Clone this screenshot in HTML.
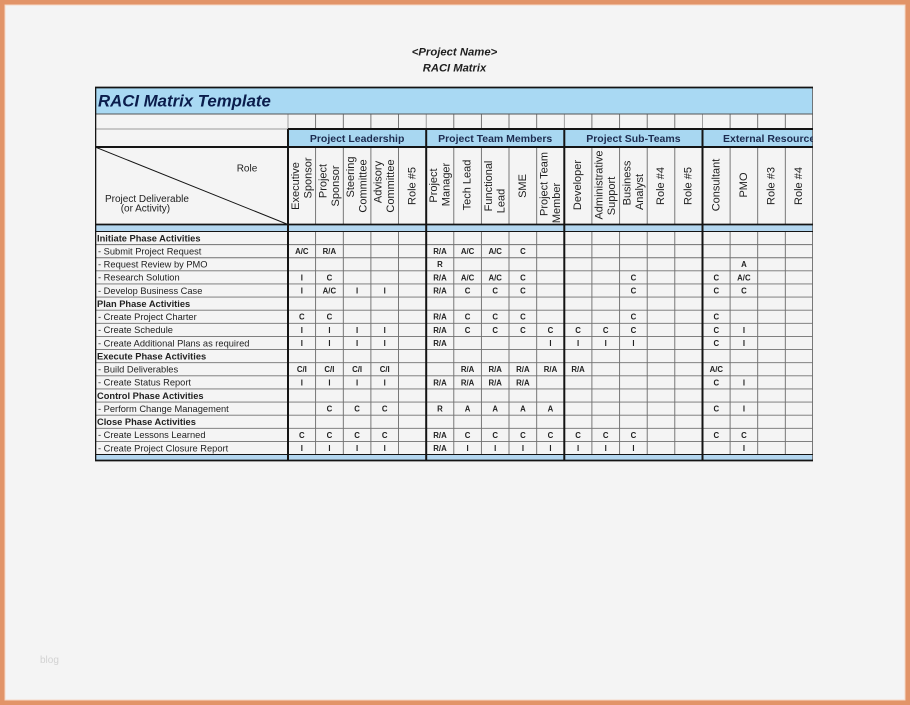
<!DOCTYPE html>
<html>
<head>
<meta charset="utf-8">
<style>
html,body{margin:0;padding:0;background:#f4f4f4;}
body{width:910px;height:705px;overflow:hidden;}
svg{display:block;}
text{font-family:"Liberation Sans",Arial,sans-serif;}
</style>
</head>
<body>
<svg width="910" height="705" viewBox="0 0 910 705" xmlns="http://www.w3.org/2000/svg">
<defs>
<clipPath id="tbl"><rect x="95" y="80" width="718" height="390"/></clipPath>
<g id="vl">
<line x1="315.6" x2="315.6"/><line x1="343.3" x2="343.3"/><line x1="370.9" x2="370.9"/><line x1="398.5" x2="398.5"/>
<line x1="453.8" x2="453.8"/><line x1="481.4" x2="481.4"/><line x1="509.0" x2="509.0"/><line x1="536.7" x2="536.7"/>
<line x1="591.9" x2="591.9"/><line x1="619.6" x2="619.6"/><line x1="647.2" x2="647.2"/><line x1="674.8" x2="674.8"/>
<line x1="730.1" x2="730.1"/><line x1="757.7" x2="757.7"/><line x1="785.3" x2="785.3"/>
</g>
</defs>
<rect x="0" y="0" width="910" height="705" fill="#f4f4f4"/>
<rect x="2" y="2" width="905.5" height="700.5" fill="none" stroke="#e29468" stroke-width="5"/>
<rect x="5" y="5" width="900" height="695" fill="none" stroke="#f6d9c6" stroke-width="1"/>

<text x="454.5" y="55.3" font-size="11.3" font-weight="bold" font-style="italic" fill="#1e1e1e" text-anchor="middle">&lt;Project Name&gt;</text>
<text x="454.5" y="71.6" font-size="11.2" font-weight="bold" font-style="italic" fill="#1e1e1e" text-anchor="middle">RACI Matrix</text>

<text x="40" y="663" font-size="10" fill="#d2d2d2">blog</text>

<g clip-path="url(#tbl)">
<rect x="95" y="87" width="718" height="27" fill="#a9d9f3"/>
<rect x="288" y="129" width="525" height="18" fill="#a8d7f1"/>
<rect x="95" y="224.5" width="718" height="7" fill="#b3d6ef"/>
<rect x="95" y="454.5" width="718" height="6" fill="#b3d6ef"/>

<!-- column thin lines: row 114-129 -->
<g stroke="#8a8a8a" stroke-width="0.8">
<line x1="288" y1="114" x2="288" y2="129"/>
<line x1="426.2" y1="114" x2="426.2" y2="129"/>
<line x1="564.3" y1="114" x2="564.3" y2="129"/>
<line x1="702.5" y1="114" x2="702.5" y2="129"/>
</g>
<g stroke="#8a8a8a" stroke-width="0.8" transform="translate(0,114) scale(1,15)"><use href="#vl" y1="0"/></g>

<g stroke="#6a6a6a" stroke-width="0.9">
<line x1="315.6" y1="114" x2="315.6" y2="129"/><line x1="343.3" y1="114" x2="343.3" y2="129"/><line x1="370.9" y1="114" x2="370.9" y2="129"/><line x1="398.5" y1="114" x2="398.5" y2="129"/>
<line x1="453.8" y1="114" x2="453.8" y2="129"/><line x1="481.4" y1="114" x2="481.4" y2="129"/><line x1="509.0" y1="114" x2="509.0" y2="129"/><line x1="536.7" y1="114" x2="536.7" y2="129"/>
<line x1="591.9" y1="114" x2="591.9" y2="129"/><line x1="619.6" y1="114" x2="619.6" y2="129"/><line x1="647.2" y1="114" x2="647.2" y2="129"/><line x1="674.8" y1="114" x2="674.8" y2="129"/>
<line x1="730.1" y1="114" x2="730.1" y2="129"/><line x1="757.7" y1="114" x2="757.7" y2="129"/><line x1="785.3" y1="114" x2="785.3" y2="129"/>

<line x1="315.6" y1="147" x2="315.6" y2="224.5"/><line x1="343.3" y1="147" x2="343.3" y2="224.5"/><line x1="370.9" y1="147" x2="370.9" y2="224.5"/><line x1="398.5" y1="147" x2="398.5" y2="224.5"/>
<line x1="453.8" y1="147" x2="453.8" y2="224.5"/><line x1="481.4" y1="147" x2="481.4" y2="224.5"/><line x1="509.0" y1="147" x2="509.0" y2="224.5"/><line x1="536.7" y1="147" x2="536.7" y2="224.5"/>
<line x1="591.9" y1="147" x2="591.9" y2="224.5"/><line x1="619.6" y1="147" x2="619.6" y2="224.5"/><line x1="647.2" y1="147" x2="647.2" y2="224.5"/><line x1="674.8" y1="147" x2="674.8" y2="224.5"/>
<line x1="730.1" y1="147" x2="730.1" y2="224.5"/><line x1="757.7" y1="147" x2="757.7" y2="224.5"/><line x1="785.3" y1="147" x2="785.3" y2="224.5"/>

<line x1="315.6" y1="231.5" x2="315.6" y2="454.5"/><line x1="343.3" y1="231.5" x2="343.3" y2="454.5"/><line x1="370.9" y1="231.5" x2="370.9" y2="454.5"/><line x1="398.5" y1="231.5" x2="398.5" y2="454.5"/>
<line x1="453.8" y1="231.5" x2="453.8" y2="454.5"/><line x1="481.4" y1="231.5" x2="481.4" y2="454.5"/><line x1="509.0" y1="231.5" x2="509.0" y2="454.5"/><line x1="536.7" y1="231.5" x2="536.7" y2="454.5"/>
<line x1="591.9" y1="231.5" x2="591.9" y2="454.5"/><line x1="619.6" y1="231.5" x2="619.6" y2="454.5"/><line x1="647.2" y1="231.5" x2="647.2" y2="454.5"/><line x1="674.8" y1="231.5" x2="674.8" y2="454.5"/>
<line x1="730.1" y1="231.5" x2="730.1" y2="454.5"/><line x1="757.7" y1="231.5" x2="757.7" y2="454.5"/><line x1="785.3" y1="231.5" x2="785.3" y2="454.5"/>

<line x1="812.5" y1="87" x2="812.5" y2="461"/>
</g>

<g stroke="#707070" stroke-width="0.9">
<line x1="95" y1="244.62" x2="813" y2="244.62"/>
<line x1="95" y1="257.74" x2="813" y2="257.74"/>
<line x1="95" y1="270.86" x2="813" y2="270.86"/>
<line x1="95" y1="283.98" x2="813" y2="283.98"/>
<line x1="95" y1="297.1" x2="813" y2="297.1"/>
<line x1="95" y1="310.22" x2="813" y2="310.22"/>
<line x1="95" y1="323.34" x2="813" y2="323.34"/>
<line x1="95" y1="336.46" x2="813" y2="336.46"/>
<line x1="95" y1="349.58" x2="813" y2="349.58"/>
<line x1="95" y1="362.7" x2="813" y2="362.7"/>
<line x1="95" y1="375.82" x2="813" y2="375.82"/>
<line x1="95" y1="388.94" x2="813" y2="388.94"/>
<line x1="95" y1="402.06" x2="813" y2="402.06"/>
<line x1="95" y1="415.18" x2="813" y2="415.18"/>
<line x1="95" y1="428.3" x2="813" y2="428.3"/>
<line x1="95" y1="441.42" x2="813" y2="441.42"/>
<line x1="95" y1="129" x2="288" y2="129" stroke="#9a9a9a"/>
<line x1="95" y1="114" x2="813" y2="114" stroke="#555"/>
</g>

<g stroke="#141414">
<line x1="95" y1="87.5" x2="813" y2="87.5" stroke-width="1.8"/>
<line x1="288" y1="129" x2="813" y2="129" stroke-width="2"/>
<line x1="95" y1="147" x2="813" y2="147" stroke-width="2"/>
<line x1="95" y1="224.5" x2="813" y2="224.5" stroke-width="1.8"/>
<line x1="95" y1="231.5" x2="813" y2="231.5" stroke-width="1"/>
<line x1="95" y1="454.5" x2="813" y2="454.5" stroke-width="1"/>
<line x1="95" y1="460.5" x2="813" y2="460.5" stroke-width="1.8"/>
<line x1="95.5" y1="87" x2="95.5" y2="461" stroke-width="1.6"/>
<line x1="288" y1="129" x2="288" y2="461" stroke-width="2"/>
<line x1="426.2" y1="129" x2="426.2" y2="461" stroke-width="2"/>
<line x1="564.3" y1="129" x2="564.3" y2="461" stroke-width="2"/>
<line x1="702.5" y1="129" x2="702.5" y2="461" stroke-width="2"/>
<line x1="95" y1="147" x2="288" y2="224.5" stroke-width="1"/>
</g>

<text x="98" y="106.5" font-size="16.8" font-weight="bold" font-style="italic" fill="#0b1d4c">RACI Matrix Template</text>

<g font-size="10.5" font-weight="bold" fill="#1c2b4f" text-anchor="middle">
<text x="357.1" y="141.8">Project Leadership</text>
<text x="495.2" y="141.8">Project Team Members</text>
<text x="633.4" y="141.8">Project Sub-Teams</text>
<text x="723" y="141.8" text-anchor="start">External Resources</text>
</g>

<g font-size="10" fill="#1e1e1e">
<text x="236.7" y="171.3">Role</text>
<text x="105" y="201.9">Project Deliverable</text>
<text x="120.7" y="211.6">(or Activity)</text>
</g>

<g font-size="11" fill="#1e1e1e" text-anchor="middle">
<text transform="translate(301.8,186) rotate(-90)" y="-3">Executive</text>
<text transform="translate(301.8,178) rotate(-90)" y="9.5">Sponsor</text>
<text transform="translate(329.4,181) rotate(-90)" y="-3">Project</text>
<text transform="translate(329.4,186) rotate(-90)" y="9.5">Sponsor</text>
<text transform="translate(357.1,177) rotate(-90)" y="-3">Steering</text>
<text transform="translate(357.1,186) rotate(-90)" y="9.5">Committee</text>
<text transform="translate(384.7,182) rotate(-90)" y="-3">Advisory</text>
<text transform="translate(384.7,186) rotate(-90)" y="9.5">Committee</text>
<text transform="translate(412.3,186) rotate(-90)" y="3">Role #5</text>
<text transform="translate(440.0,185.5) rotate(-90)" y="-3">Project</text>
<text transform="translate(440.0,184.5) rotate(-90)" y="9.5">Manager</text>
<text transform="translate(467.6,185) rotate(-90)" y="3">Tech Lead</text>
<text transform="translate(495.2,186) rotate(-90)" y="-3">Functional</text>
<text transform="translate(495.2,201) rotate(-90)" y="9.5">Lead</text>
<text transform="translate(522.9,186) rotate(-90)" y="3">SME</text>
<text transform="translate(550.5,184) rotate(-90)" y="-3">Project Team</text>
<text transform="translate(550.5,203) rotate(-90)" y="9.5">Member</text>
<text transform="translate(578.1,185) rotate(-90)" y="3">Developer</text>
<text transform="translate(605.7,185) rotate(-90)" y="-3">Administrative</text>
<text transform="translate(605.7,196) rotate(-90)" y="9.5">Support</text>
<text transform="translate(633.4,183) rotate(-90)" y="-3">Business</text>
<text transform="translate(633.4,192) rotate(-90)" y="9.5">Analyst</text>
<text transform="translate(661.0,186) rotate(-90)" y="3">Role #4</text>
<text transform="translate(688.6,186) rotate(-90)" y="3">Role #5</text>
<text transform="translate(716.3,185) rotate(-90)" y="3">Consultant</text>
<text transform="translate(743.9,185) rotate(-90)" y="3">PMO</text>
<text transform="translate(771.5,186) rotate(-90)" y="3">Role #3</text>
<text transform="translate(799.2,186) rotate(-90)" y="3">Role #4</text>
</g>

<g font-size="9.3" fill="#222">
<text x="97" y="241.4" font-weight="bold">Initiate Phase Activities</text>
<text x="98" y="254.5">- Submit Project Request</text>
<text x="98" y="267.6">- Request Review by PMO</text>
<text x="98" y="280.7">- Research Solution</text>
<text x="98" y="293.8">- Develop Business Case</text>
<text x="97" y="307.0" font-weight="bold">Plan Phase Activities</text>
<text x="98" y="320.1">- Create Project Charter</text>
<text x="98" y="333.2">- Create Schedule</text>
<text x="98" y="346.3">- Create Additional Plans as required</text>
<text x="97" y="359.4" font-weight="bold">Execute Phase Activities</text>
<text x="98" y="372.6">- Build Deliverables</text>
<text x="98" y="385.7">- Create Status Report</text>
<text x="97" y="398.8" font-weight="bold">Control Phase Activities</text>
<text x="98" y="411.9">- Perform Change Management</text>
<text x="97" y="425.0" font-weight="bold">Close Phase Activities</text>
<text x="98" y="438.2">- Create Lessons Learned</text>
<text x="98" y="451.3">- Create Project Closure Report</text>
</g>

<g font-size="7.8" font-weight="bold" fill="#222" text-anchor="middle">
<text x="301.8" y="254.1">A/C</text><text x="329.4" y="254.1">R/A</text>
<text x="440.0" y="254.1">R/A</text><text x="467.6" y="254.1">A/C</text><text x="495.2" y="254.1">A/C</text><text x="522.9" y="254.1">C</text>
<text x="440.0" y="267.2">R</text><text x="743.9" y="267.2">A</text>
<text x="301.8" y="280.3">I</text><text x="329.4" y="280.3">C</text>
<text x="440.0" y="280.3">R/A</text><text x="467.6" y="280.3">A/C</text><text x="495.2" y="280.3">A/C</text><text x="522.9" y="280.3">C</text>
<text x="633.4" y="280.3">C</text><text x="716.3" y="280.3">C</text><text x="743.9" y="280.3">A/C</text>
<text x="301.8" y="293.4">I</text><text x="329.4" y="293.4">A/C</text><text x="357.1" y="293.4">I</text><text x="384.7" y="293.4">I</text>
<text x="440.0" y="293.4">R/A</text><text x="467.6" y="293.4">C</text><text x="495.2" y="293.4">C</text><text x="522.9" y="293.4">C</text>
<text x="633.4" y="293.4">C</text><text x="716.3" y="293.4">C</text><text x="743.9" y="293.4">C</text>
<text x="301.8" y="319.7">C</text><text x="329.4" y="319.7">C</text>
<text x="440.0" y="319.7">R/A</text><text x="467.6" y="319.7">C</text><text x="495.2" y="319.7">C</text><text x="522.9" y="319.7">C</text>
<text x="633.4" y="319.7">C</text><text x="716.3" y="319.7">C</text>
<text x="301.8" y="332.8">I</text><text x="329.4" y="332.8">I</text><text x="357.1" y="332.8">I</text><text x="384.7" y="332.8">I</text>
<text x="440.0" y="332.8">R/A</text><text x="467.6" y="332.8">C</text><text x="495.2" y="332.8">C</text><text x="522.9" y="332.8">C</text><text x="550.5" y="332.8">C</text>
<text x="578.1" y="332.8">C</text><text x="605.7" y="332.8">C</text><text x="633.4" y="332.8">C</text>
<text x="716.3" y="332.8">C</text><text x="743.9" y="332.8">I</text>
<text x="301.8" y="345.9">I</text><text x="329.4" y="345.9">I</text><text x="357.1" y="345.9">I</text><text x="384.7" y="345.9">I</text>
<text x="440.0" y="345.9">R/A</text><text x="550.5" y="345.9">I</text>
<text x="578.1" y="345.9">I</text><text x="605.7" y="345.9">I</text><text x="633.4" y="345.9">I</text>
<text x="716.3" y="345.9">C</text><text x="743.9" y="345.9">I</text>
<text x="301.8" y="372.2">C/I</text><text x="329.4" y="372.2">C/I</text><text x="357.1" y="372.2">C/I</text><text x="384.7" y="372.2">C/I</text>
<text x="467.6" y="372.2">R/A</text><text x="495.2" y="372.2">R/A</text><text x="522.9" y="372.2">R/A</text><text x="550.5" y="372.2">R/A</text>
<text x="578.1" y="372.2">R/A</text><text x="716.3" y="372.2">A/C</text>
<text x="301.8" y="385.3">I</text><text x="329.4" y="385.3">I</text><text x="357.1" y="385.3">I</text><text x="384.7" y="385.3">I</text>
<text x="440.0" y="385.3">R/A</text><text x="467.6" y="385.3">R/A</text><text x="495.2" y="385.3">R/A</text><text x="522.9" y="385.3">R/A</text>
<text x="716.3" y="385.3">C</text><text x="743.9" y="385.3">I</text>
<text x="329.4" y="411.5">C</text><text x="357.1" y="411.5">C</text><text x="384.7" y="411.5">C</text>
<text x="440.0" y="411.5">R</text><text x="467.6" y="411.5">A</text><text x="495.2" y="411.5">A</text><text x="522.9" y="411.5">A</text><text x="550.5" y="411.5">A</text>
<text x="716.3" y="411.5">C</text><text x="743.9" y="411.5">I</text>
<text x="301.8" y="437.8">C</text><text x="329.4" y="437.8">C</text><text x="357.1" y="437.8">C</text><text x="384.7" y="437.8">C</text>
<text x="440.0" y="437.8">R/A</text><text x="467.6" y="437.8">C</text><text x="495.2" y="437.8">C</text><text x="522.9" y="437.8">C</text><text x="550.5" y="437.8">C</text>
<text x="578.1" y="437.8">C</text><text x="605.7" y="437.8">C</text><text x="633.4" y="437.8">C</text>
<text x="716.3" y="437.8">C</text><text x="743.9" y="437.8">C</text>
<text x="301.8" y="450.9">I</text><text x="329.4" y="450.9">I</text><text x="357.1" y="450.9">I</text><text x="384.7" y="450.9">I</text>
<text x="440.0" y="450.9">R/A</text><text x="467.6" y="450.9">I</text><text x="495.2" y="450.9">I</text><text x="522.9" y="450.9">I</text><text x="550.5" y="450.9">I</text>
<text x="578.1" y="450.9">I</text><text x="605.7" y="450.9">I</text><text x="633.4" y="450.9">I</text>
<text x="743.9" y="450.9">I</text>
</g>
</g>
</svg>
</body>
</html>
